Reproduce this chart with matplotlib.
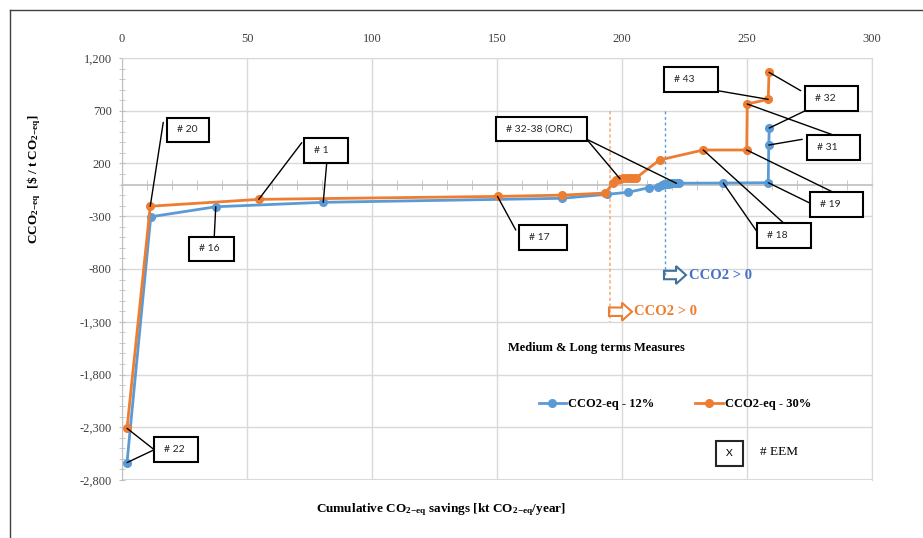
import matplotlib
matplotlib.use("Agg")
import matplotlib.pyplot as plt
import matplotlib.patches as mpatches
from matplotlib.lines import Line2D
from matplotlib.ticker import MultipleLocator, FuncFormatter

# cumulative savings [kt CO2-eq/year] and cost of conserved CO2 [$ / t CO2-eq]
blue_x = [2, 11.5, 37.5, 80.5, 176, 193.8, 202.5, 210.8, 214.3, 215.8, 216.8,
          217.8, 218.8, 219.8, 220.8, 221.8, 222.8, 240.5, 258.5, 258.7, 258.9]
blue_y = [-2635, -305, -210, -168, -130, -92, -73, -29, -20, -5, 3,
          8, 10, 11, 12, 12, 13, 15, 18, 375, 536]

orange_x = [2, 11.3, 54.7, 150.2, 176, 193.3, 196.5, 197.6, 199.2, 200.5,
            201.8, 203, 204.3, 205.7, 215, 232.5, 249.9, 250.1, 258.5, 258.8]
orange_y = [-2310, -205, -140, -112, -100, -80, 18, 44, 55, 58,
            60, 62, 63, 65, 233, 328, 328, 764, 808, 1064]

series_labels = ["CCO2-eq - 12%", "CCO2-eq - 30%"]
breakeven_x = {"blue": 217, "orange": 195.2}

BLUE = "#5B9BD5"
ORANGE = "#ED7D31"
SERIF = "Liberation Serif"
SANS = "Lato"

plt.rcParams["font.family"] = SERIF
plt.rcParams["mathtext.fontset"] = "custom"
plt.rcParams["mathtext.rm"] = "Liberation Serif:bold"
plt.rcParams["mathtext.it"] = "Liberation Serif:bold"
plt.rcParams["mathtext.bf"] = "Liberation Serif:bold"

fig = plt.figure(figsize=(9.23, 5.38), dpi=100)
ax = fig.add_axes([122 / 923, 1 - 480 / 538, 750 / 923, 422 / 538])

ax.set_xlim(0, 300)
ax.set_ylim(-2800, 1200)
ax.xaxis.set_major_locator(MultipleLocator(50))
ax.xaxis.set_minor_locator(MultipleLocator(10))
ax.set_yticks(range(-2800, 1201, 500))
ax.yaxis.set_minor_locator(MultipleLocator(100))
ax.yaxis.set_major_formatter(FuncFormatter(lambda v, p: f"{v:,.0f}"))
ax.grid(True, which="major", color="#d9d9d9", lw=1)
ax.set_axisbelow(True)

for side in ["top", "right"]:
    ax.spines[side].set_color("#d9d9d9")
ax.spines["left"].set_color("#bfbfbf")
ax.spines["bottom"].set_position(("data", 0))
ax.spines["bottom"].set_color("#bfbfbf")
ax.spines["bottom"].set_linewidth(1.2)
ax.axhline(-2800, color="#d9d9d9", lw=1.5, zorder=0)

ax.tick_params(axis="x", which="both", bottom=True, top=False, labelbottom=False,
               labeltop=True, direction="inout", color="#bfbfbf", length=7,
               labelsize=9, pad=6)
ax.tick_params(axis="y", which="both", direction="inout", color="#bfbfbf",
               length=5, labelsize=9, pad=5)
for lab in ax.get_xticklabels() + ax.get_yticklabels():
    lab.set_color("#404040")

# break-even markers
ax.plot([breakeven_x["orange"]] * 2, [700, -1300], color="#F4B183", lw=1.2,
        ls=(0, (2, 1.5)), zorder=1)
ax.plot([breakeven_x["blue"]] * 2, [700, -870], color=BLUE, lw=1,
        ls=(0, (2, 2)), zorder=1)
ax.add_patch(mpatches.FancyArrow(breakeven_x["blue"] - 0.2, -857, 8.8, 0,
                                 width=80, head_width=170, head_length=4,
                                 length_includes_head=True, fill=False,
                                 ec="#41719C", lw=1.5, zorder=3))
ax.text(226.8, -857, "CCO2 > 0", color="#4472C4", fontsize=10.5,
        fontweight="bold", va="center", ha="left")
ax.add_patch(mpatches.FancyArrow(breakeven_x["orange"] - 0.4, -1205, 9.2, 0,
                                 width=80, head_width=170, head_length=4,
                                 length_includes_head=True, fill=False,
                                 ec=ORANGE, lw=1.5, zorder=3))
ax.text(204.8, -1205, "CCO2 > 0", color=ORANGE, fontsize=10.5,
        fontweight="bold", va="center", ha="left")

# curves
ax.plot(blue_x, blue_y, color=BLUE, lw=2, marker="o", ms=5.5,
        label=series_labels[0], zorder=4)
ax.plot(orange_x, orange_y, color=ORANGE, lw=2, marker="o", ms=5.5,
        label=series_labels[1], zorder=4)

# measure labels: text, box (x0, y0, w, h), connectors (anchor, series, index)
callouts = [
    ("# 20", (17.9, 404, 17, 230), [((16.5, 590), "o", 1)]),
    ("# 1", (72.9, 208, 17.4, 237), [((71.9, 397), "o", 2), ((81.9, 208), "b", 3)]),
    ("# 16", (26.9, -724, 18, 230), [((36.9, -494), "b", 2)]),
    ("# 22", (12.9, -2629, 17.4, 234), [((12.9, -2513), "o", 0), ((12.9, -2513), "b", 0)]),
    ("# 17", (158.9, -620, 19.2, 237), [((157.5, -430), "o", 3)]),
    ("# 32-38 (ORC)", (149.5, 416, 36.4, 228), [((185.9, 429), "o", 8), ((186.5, 423), "b", 15)]),
    ("# 43", (216.9, 878, 21.4, 234), [((238.3, 890), "o", 18)]),
    ("# 32", (273.3, 700, 21.2, 235), [((271.5, 890), "o", 19), ((273.3, 700), "b", 20)]),
    ("# 31", (274.1, 233, 21.2, 234), [((284.5, 470), "o", 17), ((272.1, 429), "b", 19)]),
    ("# 19", (275.2, -307, 21.3, 234), [((285.9, -89), "o", 16), ((275.9, -184), "b", 18)]),
    ("# 18", (254.1, -604, 21.5, 237), [((264.5, -361), "o", 15), ((255.2, -487), "b", 17)]),
]
pts = {"b": (blue_x, blue_y), "o": (orange_x, orange_y)}
for text, (x0, y0, w, h), links in callouts:
    for anchor, s, i in links:
        xs, ys = pts[s]
        ax.annotate("", xy=(xs[i], ys[i]), xytext=anchor,
                    arrowprops=dict(arrowstyle="-", color="black", lw=1,
                                    shrinkA=0, shrinkB=0), zorder=5)
    ax.add_patch(mpatches.Rectangle((x0, y0), w, h, fc="white", ec="black",
                                    lw=1.5, zorder=6))
    ax.text(x0 + 4, y0 + h / 2, text, family=SANS, fontsize=7.5, color="#262626",
            va="center", ha="left", zorder=7)

# legend area
ax.text(154.4, -1549, "Medium & Long terms Measures", fontsize=9,
        fontweight="bold", va="center", ha="left")
ax.legend(loc="center", bbox_to_anchor=(0.737, 0.18), ncol=2, frameon=False,
          prop={"family": SERIF, "weight": "bold", "size": 9},
          handlelength=2.2, handletextpad=0.15, columnspacing=3.3,
          markerscale=1.0)
ax.add_patch(mpatches.Rectangle((237.5, -2667), 11, 237, fc="white",
                                ec="#262626", lw=1.5, zorder=6))
ax.text(243, -2548, "X", family=SANS, fontsize=7.5, ha="center", va="center",
        zorder=7)
ax.text(255.2, -2535, "# EEM", fontsize=9.5, va="center", ha="left")

# axis titles
fig.text(34 / 923, 1 - 179 / 538,
         r"CCO$_{2\mathrm{-eq}}$  [\$ / t CO$_{2\mathrm{-eq}}$]",
         rotation=90, fontsize=9.5, fontweight="bold", ha="center", va="center")
fig.text(441 / 923, 1 - 510 / 538,
         r"Cumulative CO$_{2\mathrm{-eq}}$ savings [kt CO$_{2\mathrm{-eq}}$/year]",
         fontsize=9.5, fontweight="bold", ha="center", va="center")

# outer frame
fig.add_artist(Line2D([10 / 923, 10 / 923], [0, 1 - 10 / 538], color="#404040",
                      lw=1, transform=fig.transFigure))
fig.add_artist(Line2D([10 / 923, 1], [1 - 10 / 538, 1 - 10 / 538], color="#404040",
                      lw=1, transform=fig.transFigure))

fig.savefig("out.png", dpi=100)
